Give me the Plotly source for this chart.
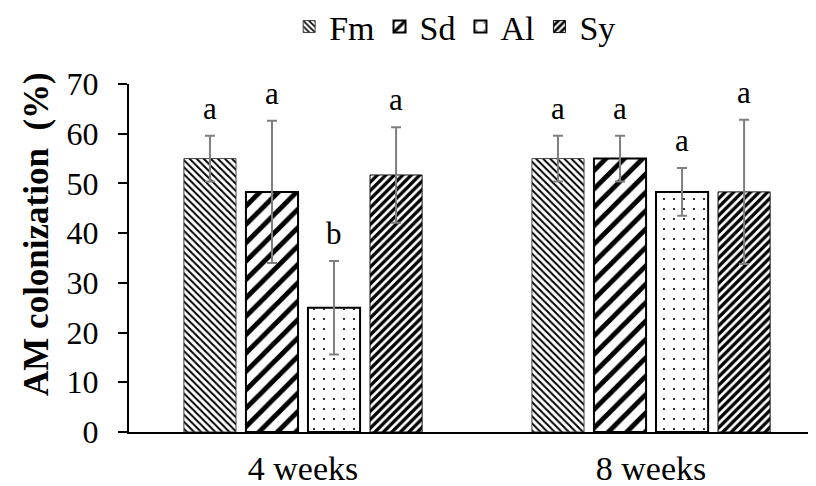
import plotly.graph_objects as go

categories = ["4 weeks", "8 weeks"]
series_names = ["Fm", "Sd", "Al", "Sy"]
fm_values = [55.0, 55.0]
sd_values = [48.3, 55.0]
al_values = [25.0, 48.3]
sy_values = [51.7, 48.3]
fm_err = [4.6, 4.6]
sd_err = [14.3, 4.6]
al_err = [9.4, 4.8]
sy_err = [9.6, 14.5]
fm_letters = ["a", "a"]
sd_letters = ["a", "a"]
al_letters = ["b", "a"]
sy_letters = ["a", "a"]
y_title = "<b>AM colonization  (%)</b>"

values = [fm_values, sd_values, al_values, sy_values]
errors = [fm_err, sd_err, al_err, sy_err]
letters = [fm_letters, sd_letters, al_letters, sy_letters]

styles = [
    dict(shape="\\", size=5, solidity=0.4, line=dict(color="#444444", width=1)),
    dict(shape="/", size=13, solidity=0.38, line=dict(color="black", width=2)),
    dict(shape=".", size=10, solidity=0.035, line=dict(color="black", width=2)),
    dict(shape="/", size=6, solidity=0.55, line=dict(color="#111111", width=1)),
]

bargap = 0.287
bargroupgap = 0.16
FONT = "Liberation Serif"

fig = go.Figure()
for name, v, e, st in zip(series_names, values, errors, styles):
    fig.add_trace(go.Bar(
        name=name, x=categories, y=v,
        marker=dict(color="white",
                    pattern=dict(shape=st["shape"], size=st["size"], solidity=st["solidity"],
                                 fgcolor="black", bgcolor="white", fillmode="replace",
                                 fgopacity=1),
                    line=st["line"]),
        error_y=dict(type="data", array=e, visible=True, color="#7f7f7f", thickness=2, width=5),
    ))

n = len(series_names)
slot = (1 - bargap) / n
for i, (v, e, lt) in enumerate(zip(values, errors, letters)):
    off = (i - (n - 1) / 2) * slot
    for j in range(len(categories)):
        fig.add_annotation(x=j + off, y=v[j] + e[j], text=lt[j], showarrow=False,
                           xref="x", yref="y", yanchor="bottom", yshift=8,
                           font=dict(family=FONT, size=31, color="black"))

# y-axis title as a rotated annotation (positioned like the original)
fig.add_annotation(x=-0.1324, y=0.569, xref="paper", yref="paper", text=y_title,
                   textangle=-90, showarrow=False, xanchor="center", yanchor="middle",
                   font=dict(family=FONT, size=35, color="black"))

fig.update_layout(
    width=816, height=486,
    margin=dict(l=121, r=0, t=76, b=62, autoexpand=False),
    paper_bgcolor="white", plot_bgcolor="white",
    barmode="group", bargap=bargap, bargroupgap=bargroupgap,
    font=dict(family=FONT, size=32, color="black"),
    showlegend=True,
    legend=dict(orientation="h", x=0.548, xref="container", xanchor="center",
                y=0.961, yanchor="middle", yref="container",
                font=dict(family=FONT, size=34, color="black"), tracegroupgap=0),
    xaxis=dict(type="category", range=[-0.5, 1.497], showline=True, linecolor="black",
               linewidth=2, ticks="", showgrid=False, automargin=False,
               ticklabelstandoff=5,
               tickfont=dict(family=FONT, size=34, color="black")),
    yaxis=dict(range=[0, 70], dtick=10, showline=True, linecolor="black", linewidth=2,
               ticks="outside", ticklen=9, tickcolor="black", tickwidth=2, showgrid=False,
               automargin=False, ticklabelstandoff=13,
               tickfont=dict(family=FONT, size=32, color="black")),
)

fig.write_html("out.html")
